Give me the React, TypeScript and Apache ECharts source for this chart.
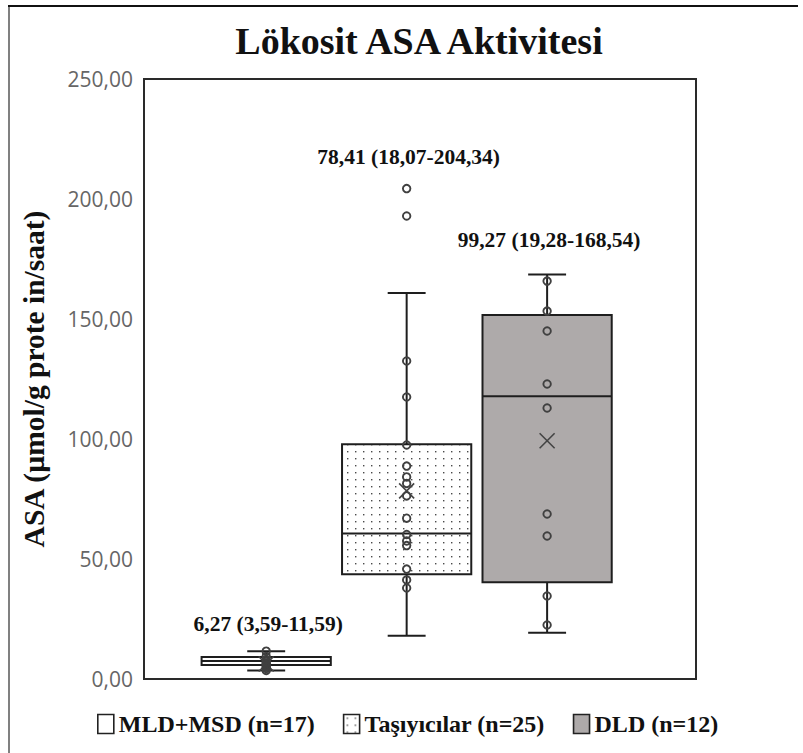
import React, { useEffect, useRef } from 'react';
import * as echarts from 'echarts';

// ---- data ----
const categories = ['MLD+MSD (n=17)', 'Taşıyıcılar (n=25)', 'DLD (n=12)'];
const groupX = [1, 2, 3];
const whiskerLow = [3.59, 18.07, 19.28];
const q1 = [5.8, 43.6, 40.3];
const median = [7.5, 60.6, 117.8];
const q3 = [9.2, 97.8, 151.7];
const whiskerHigh = [11.59, 160.8, 168.54];
const mean = [6.27, 78.41, 99.27];
const minVal = [3.59, 18.07, 19.28];
const maxVal = [11.59, 204.34, 168.54];
const labelAt = [23, 217.5, 183];

const pointsMldMsd = [3.59, 4.4, 5.1, 5.7, 6.2, 6.7, 7.3, 8.1, 9.4, 11.59];
const pointsTasiyici = [204.34, 192.9, 132.5, 117.5, 97.5, 88.7, 84.2, 81.5, 76.3, 67.0, 60.2, 57.5, 55.6, 45.8, 41.3, 37.9];
const pointsDld = [165.8, 153.3, 145.0, 122.9, 112.9, 68.75, 59.6, 34.6, 22.5];

const yTicks = [0, 50, 100, 150, 200, 250];

const fmt = (v: number) => v.toFixed(2).replace('.', ',');

const SERIF = '"Liberation Serif", "Times New Roman", serif';

const dotSvg =
  '<svg xmlns="http://www.w3.org/2000/svg" width="8" height="7">' +
  '<rect width="8" height="7" fill="#ffffff"/>' +
  '<rect x="3" y="3" width="1.4" height="1.4" fill="#4a4a4a"/></svg>';
const dotPattern: any = {
  image: 'data:image/svg+xml;charset=utf-8,' + encodeURIComponent(dotSvg),
  repeat: 'repeat',
  imageWidth: 8,
  imageHeight: 7,
};

const fills: any[] = ['#ffffff', dotPattern, '#aeaaaa'];

const BOX_W = 0.92;
const CAP_W = 0.27;
const STROKE = '#1e1e1e';

function renderBox(params: any, api: any) {
  const x = api.value(0);
  const lo = api.value(1);
  const a = api.value(2);
  const m = api.value(3);
  const b = api.value(4);
  const hi = api.value(5);
  const mu = api.value(6);
  const mn = api.value(7);
  const mx = api.value(8);
  const la = api.value(9);
  const i = params.seriesIndex;
  const cx = api.coord([x, 0])[0];
  const half = api.size([BOX_W, 0])[0] / 2;
  const capHalf = api.size([CAP_W, 0])[0] / 2;
  const yLo = api.coord([x, lo])[1];
  const yA = api.coord([x, a])[1];
  const yM = api.coord([x, m])[1];
  const yB = api.coord([x, b])[1];
  const yHi = api.coord([x, hi])[1];
  const yMu = api.coord([x, mu])[1];
  const yLab = api.coord([x, la])[1];
  const ls = { stroke: STROKE, lineWidth: 2 };
  const xs = 7.5;
  return {
    type: 'group',
    children: [
      { type: 'line', shape: { x1: cx, y1: yLo, x2: cx, y2: yA }, style: ls },
      { type: 'line', shape: { x1: cx, y1: yB, x2: cx, y2: yHi }, style: ls },
      { type: 'line', shape: { x1: cx - capHalf, y1: yLo, x2: cx + capHalf, y2: yLo }, style: ls },
      { type: 'line', shape: { x1: cx - capHalf, y1: yHi, x2: cx + capHalf, y2: yHi }, style: ls },
      {
        type: 'rect',
        shape: { x: cx - half, y: yB, width: half * 2, height: yA - yB },
        style: { fill: fills[i], stroke: STROKE, lineWidth: 2 },
      },
      { type: 'line', shape: { x1: cx - half, y1: yM, x2: cx + half, y2: yM }, style: ls },
      {
        type: 'line',
        z2: 20,
        shape: { x1: cx - xs, y1: yMu - xs, x2: cx + xs, y2: yMu + xs },
        style: { stroke: '#444', lineWidth: 1.6 },
      },
      {
        type: 'line',
        z2: 20,
        shape: { x1: cx - xs, y1: yMu + xs, x2: cx + xs, y2: yMu - xs },
        style: { stroke: '#444', lineWidth: 1.6 },
      },
      {
        type: 'text',
        style: {
          text: `${fmt(mu)} (${fmt(mn)}-${fmt(mx)})`,
          x: cx + 2,
          y: yLab,
          textAlign: 'center',
          textVerticalAlign: 'middle',
          font: `bold 21.5px ${SERIF}`,
          fill: '#111',
        },
      },
    ],
  };
}

const pointSets = [pointsMldMsd, pointsTasiyici, pointsDld];

export default function App() {
  const ref = useRef<HTMLDivElement>(null);
  useEffect(() => {
    document.body.style.margin = '0';
    const chart = echarts.init(ref.current!, null, { renderer: 'svg' });
    const boxSeries = categories.map((name, i) => ({
      type: 'custom',
      name,
      silent: true,
      renderItem: renderBox,
      encode: { x: 0, y: [1, 2, 3, 4, 5] },
      data: [[groupX[i], whiskerLow[i], q1[i], median[i], q3[i], whiskerHigh[i], mean[i], minVal[i], maxVal[i], labelAt[i]]],
      z: 2,
    }));
    const pointSeries = pointSets.map((pts, i) => ({
      type: 'scatter',
      name: 'pts' + i,
      silent: true,
      symbol: 'circle',
      symbolSize: 7.5,
      itemStyle: { color: 'transparent', borderColor: '#404040', borderWidth: 1.9, opacity: 1 },
      data: pts.map((v) => [groupX[i], v]),
      z: 3,
    }));
    chart.setOption({
      animation: false,
      title: {
        text: 'Lökosit ASA Aktivitesi',
        left: 414,
        top: 17,
        textAlign: 'center',
        textStyle: { fontFamily: SERIF, fontWeight: 'bold', fontSize: 38, color: '#111' },
      },
      grid: {
        left: 144,
        top: 79,
        width: 552,
        height: 600,
        show: true,
        borderColor: '#2a2a2a',
        borderWidth: 2,
        backgroundColor: 'transparent',
      },
      xAxis: {
        type: 'value',
        min: 0.13,
        max: 4.06,
        show: false,
      },
      yAxis: {
        type: 'value',
        min: yTicks[0],
        max: yTicks[yTicks.length - 1],
        interval: 50,
        name: 'ASA (µmol/g prote in/saat)',
        nameLocation: 'middle',
        nameGap: 95,
        nameTextStyle: { fontFamily: SERIF, fontWeight: 'bold', fontSize: 29.5, color: '#111' },
        axisLine: { show: false },
        axisTick: { show: false },
        splitLine: { show: false },
        axisLabel: {
          formatter: (v: number) => fmt(v),
          color: '#666',
          fontFamily: '"Open Sans", sans-serif',
          fontSize: 21,
          margin: 11,
        },
      },
      legend: {
        left: 97,
        top: 712,
        padding: 0,
        icon: 'rect',
        itemWidth: 16,
        itemHeight: 19,
        itemGap: 28,
        selectedMode: false,
        textStyle: { fontFamily: SERIF, fontWeight: 'bold', fontSize: 24, color: '#111' },
        data: categories.map((name, i) => ({
          name,
          itemStyle: { color: fills[i], borderColor: '#222', borderWidth: 1.6 },
        })),
      },
      graphic: [
        { type: 'line', shape: { x1: 9, y1: 6, x2: 9, y2: 753 }, style: { stroke: '#808080', lineWidth: 2 } },
        { type: 'line', shape: { x1: 8, y1: 6, x2: 798, y2: 6 }, style: { stroke: '#111', lineWidth: 2 } },
      ],
      series: [...boxSeries, ...pointSeries],
    });
    return () => chart.dispose();
  }, []);
  return <div ref={ref} style={{ width: 803, height: 753 }} />;
}
